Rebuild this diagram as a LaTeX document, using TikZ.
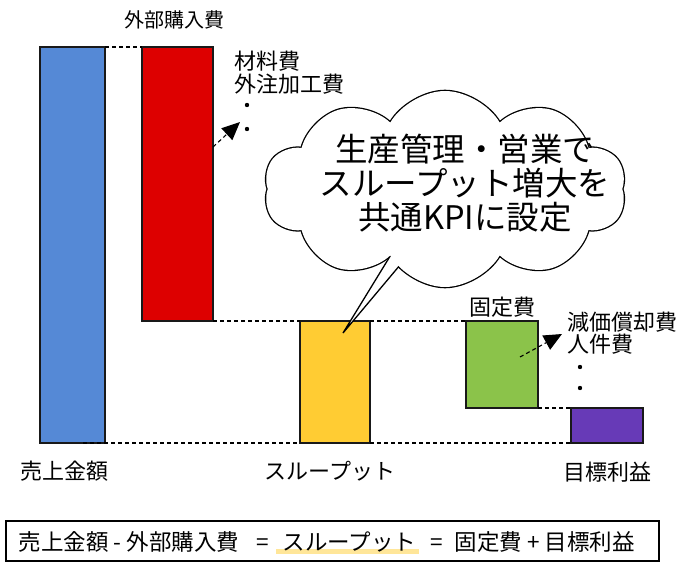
\documentclass[tikz,border=0pt]{standalone}
\usepackage{fontspec}
\setmainfont{Noto Sans CJK JP}
\usetikzlibrary{shapes.symbols,arrows.meta,backgrounds}
\definecolor{uriage}{HTML}{5589D6}
\definecolor{gaibu}{HTML}{DD0000}
\definecolor{thru}{HTML}{FFCC33}
\definecolor{kotei}{HTML}{8BC34A}
\definecolor{rieki}{HTML}{673AB7}
\definecolor{hilite}{HTML}{FFE699}

\begin{document}
\begin{tikzpicture}[x=1pt, y=-1pt, line width=1.3pt,
  bar/.style={draw=black!90, inner sep=0pt, outer sep=0pt},
  link/.style={line width=1.1pt, dash pattern=on 4pt off 3pt},
  pointer/.style={link, arrows={-Triangle[length=18pt, width=16pt]}},
  lbl/.style={font=\fontsize{22}{23}\selectfont, inner sep=0pt, align=left},
  bubble/.style={cloud, cloud puffs=10, cloud puff arc=120, cloud ignores aspect,
    minimum width=362pt, minimum height=196pt, inner sep=0pt}]
\useasboundingbox (0,0) rectangle (691,567);
%% bars
\node[bar, fill=uriage, minimum width=65pt, minimum height=396pt] (sales) at (72.5,245) {};
\node[bar, fill=gaibu, minimum width=71pt, minimum height=274pt] (ext) at (177.5,184) {};
\node[bar, fill=thru, minimum width=70pt, minimum height=122pt] (tp) at (335,382) {};
\node[bar, fill=kotei, minimum width=72pt, minimum height=87pt] (fix) at (502,364.5) {};
\node[bar, fill=rieki, minimum width=72pt, minimum height=35pt] (goal) at (607,425.5) {};
%% dashed links
\draw[link] (sales.north east) -- (ext.north west);
\draw[link] (ext.south east) -- (tp.north west);
\draw[link] (tp.north east) -- (fix.north west);
\draw[link] (fix.south east) -- (goal.north west);
\draw[link] ([xshift=-22pt]sales.south east) -- (tp.south west);
\draw[link] (tp.south east) -- (goal.south west);
%% labels
\node[lbl, font=\fontsize{20}{22}\selectfont] (extlbl) at (174,20) {外部購入費};
\node[lbl] (saleslbl) at (64,471) {売上金額};
\node[lbl] (tplbl) at (330,471) {スループット};
\node[lbl] (goallbl) at (607,472) {目標利益};
\node[lbl] (fixlbl) at (502,307) {固定費};
\node[lbl, anchor=north west] (matlbl) at (234,50) {材料費\\外注加工費};
\node[lbl, anchor=north west, font=\fontsize{22}{22}\selectfont] (deplbl) at (567,311) {減価償却費\\人件費};
%% dots
\fill (247,105) circle (2.2pt) (247,129) circle (2.2pt);
\fill (580,367) circle (2.2pt) (580,388) circle (2.2pt);
%% arrows
\coordinate (matsrc) at (213,147);
\coordinate (matdst) at (240,122);
\coordinate (depsrc) at (520,357);
\coordinate (depdst) at (562,334);
\draw[pointer] (matsrc) -- (matdst);
\draw[pointer] (depsrc) -- (depdst);
%% cloud with tail
\coordinate (tip) at (343,333);
\coordinate (tailL) at (400,240);
\coordinate (tailR) at (421,240);
\node[bubble, draw, fill=white, line width=2.6pt] (cloudout) at (445,189) {};
\filldraw[fill=white] (tailL) -- (tip) -- (tailR) -- cycle;
\node[bubble, fill=white] (cloudin) at (445,189) {};
\node[inner sep=0pt, align=center, font=\fontsize{32.5}{34}\selectfont] (msg) at (465,183)
  {生産管理・営業で\\スループット増大を\\共通KPIに設定};
%% formula
\draw (6,521) rectangle (659,561);
\begin{scope}[font=\fontsize{22.5}{23}\selectfont, inner sep=0pt]
\node[anchor=base west] (f1) at (18,550) {売上金額 - 外部購入費};
\node[anchor=base west] (eq1) at (256,550) {=};
\node[anchor=base west] (f2) at (282,550) {スループット};
\node[anchor=base west] (eq2) at (430,550) {=};
\node[anchor=base west] (f3) at (454,550) {固定費 + 目標利益};
\end{scope}
\begin{scope}[on background layer]
\fill[hilite] ([xshift=-6pt,yshift=1pt]f2.base west) rectangle ([xshift=2pt,yshift=-4pt]f2.base east);
\end{scope}
\end{tikzpicture}
\end{document}
